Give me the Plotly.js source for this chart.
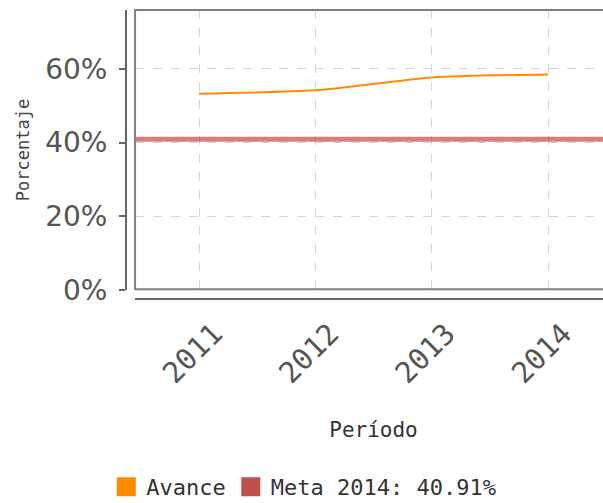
<!DOCTYPE html>
<html>
<head>
<meta charset="utf-8">
<script src="https://cdn.plot.ly/plotly-3.0.1.min.js"></script>
<style>
html,body{margin:0;padding:0;overflow:hidden;background:#fff;}
#chart{width:620px;height:503px;}
</style>
</head>
<body>
<div id="chart"></div>
<script>
const periods = ['2011', '2012', '2013', '2014'];
const avance = [53.3, 54.2, 57.7, 58.5];
const metaValue = [40.91];
const seriesNames = ['Avance', 'Meta 2014: 40.91%'];
const yTicks = [0, 20, 40, 60];
const yTickText = yTicks.map(v => v + '%');

const orange = '#ff8c00';
const red = '#c0504d';
const sans = 'DejaVu Sans, sans-serif';
const mono = 'DejaVu Sans Mono, monospace';

const xDom = [0.0186, 1];
const yDom = [0.031, 1];

const traces = [
  {
    x: periods, y: avance, type: 'scatter', mode: 'lines',
    line: {color: orange, width: 2, shape: 'spline', smoothing: 0.6},
    showlegend: false, hoverinfo: 'x+y'
  },
  {
    x: [null], y: [null], type: 'scatter', mode: 'markers', name: seriesNames[0],
    marker: {symbol: 'square', color: orange, size: 16, line: {color: orange, width: 3}}
  },
  {
    x: [null], y: [null], type: 'scatter', mode: 'markers', name: seriesNames[1],
    marker: {symbol: 'square', color: red, size: 16, line: {color: red, width: 3}}
  }
];

const layout = {
  width: 620, height: 503,
  margin: {l: 126, r: 8, t: 10, b: 204},
  paper_bgcolor: '#fff', plot_bgcolor: '#fff',
  font: {family: sans, color: '#444'},
  xaxis: {
    type: 'category', domain: xDom, anchor: 'free', position: 0,
    range: [-0.55, 3.55],
    showline: true, linecolor: '#666', linewidth: 2,
    showgrid: true, gridcolor: '#d6d6d6', griddash: 'dash', gridwidth: 1,
    ticks: '', tickangle: -45, ticklabelshift: 15, ticklabelstandoff: 5,
    tickfont: {family: mono, size: 29, color: '#555'},
    title: {text: 'Período', font: {family: mono, size: 21, color: '#333'}, standoff: 32},
    zeroline: false
  },
  yaxis: {
    domain: yDom, anchor: 'free', position: 0,
    range: [0, 76], tickmode: 'array', tickvals: yTicks, ticktext: yTickText,
    showline: true, linecolor: '#666', linewidth: 2,
    ticks: 'outside', ticklen: 6, tickcolor: '#666', tickwidth: 2,
    showgrid: true, gridcolor: '#d6d6d6', griddash: 'dash', gridwidth: 1,
    tickfont: {family: sans, size: 28, color: '#555'},
    ticklabelstandoff: 6,
    title: {text: 'Porcentaje', font: {family: mono, size: 17, color: '#444'}, standoff: 10},
    zeroline: false
  },
  shapes: [
    {
      type: 'line', xref: 'paper', yref: 'y', x0: xDom[0], x1: 1,
      y0: metaValue[0], y1: metaValue[0],
      line: {color: 'rgba(192,80,77,0.72)', width: 5}
    },
    {
      type: 'rect', xref: 'paper', yref: 'paper', x0: xDom[0], x1: 1.02,
      y0: yDom[0] + 0.003, y1: 1,
      line: {color: '#808080', width: 2}
    }
  ],
  showlegend: true,
  legend: {
    orientation: 'h', xref: 'container', yref: 'container',
    x: 0.49, xanchor: 'center', y: 0.032, yanchor: 'middle',
    font: {family: mono, size: 22, color: '#333'}, itemclick: false
  }
};

Plotly.newPlot('chart', traces, layout, {displayModeBar: false, staticPlot: true});
</script>
</body>
</html>
